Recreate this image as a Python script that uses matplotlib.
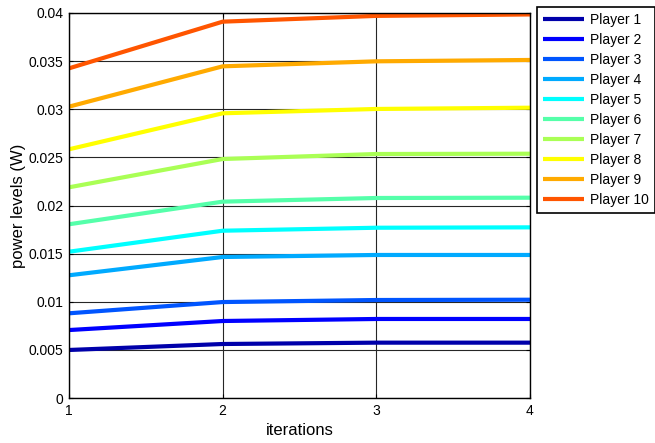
import matplotlib
matplotlib.use("Agg")
import matplotlib.pyplot as plt

plt.rcParams['font.family'] = ['Liberation Sans', 'DejaVu Sans']

iterations = [1, 2, 3, 4]
players = ["Player 1", "Player 2", "Player 3", "Player 4", "Player 5",
           "Player 6", "Player 7", "Player 8", "Player 9", "Player 10"]
p1 = [0.00499, 0.00561, 0.00575, 0.00575]
p2 = [0.00706, 0.00800, 0.00821, 0.00821]
p3 = [0.00880, 0.00997, 0.01018, 0.01021]
p4 = [0.01275, 0.01465, 0.01486, 0.01486]
p5 = [0.01520, 0.01738, 0.01769, 0.01773]
p6 = [0.01805, 0.02040, 0.02078, 0.02081]
p7 = [0.02189, 0.02483, 0.02535, 0.02538]
p8 = [0.02584, 0.02958, 0.03003, 0.03016]
p9 = [0.03027, 0.03446, 0.03498, 0.03512]
p10 = [0.03425, 0.03910, 0.03970, 0.03985]
series = [p1, p2, p3, p4, p5, p6, p7, p8, p9, p10]

colors = [(0, 0, 0.667), (0, 0, 1), (0, 0.333, 1), (0, 0.667, 1), (0, 1, 1),
          (0.333, 1, 0.667), (0.667, 1, 0.333), (1, 1, 0), (1, 0.667, 0), (1, 0.333, 0)]

fig = plt.figure(figsize=(6.55, 4.43), dpi=100)
ax = fig.add_axes([69/655, 45/443, 461/655, 385/443])

for vals, name, c in zip(series, players, colors):
    ax.plot(iterations, vals, color=c, linewidth=3, label=name, solid_capstyle='butt')

ax.set_xlim(1, 4)
ax.set_ylim(0, 0.04)
ax.set_xticks([1, 2, 3, 4])
ax.set_yticks([0, 0.005, 0.01, 0.015, 0.02, 0.025, 0.03, 0.035, 0.04])
ax.set_yticklabels(["0", "0.005", "0.01", "0.015", "0.02", "0.025", "0.03", "0.035", "0.04"])
ax.grid(True, color=(0.15, 0.15, 0.15), linewidth=0.8, linestyle='-')
ax.set_axisbelow(True)
ax.tick_params(direction='in', length=3, labelsize=10, top=True, right=True, colors='black', pad=4)
for s in ax.spines.values():
    s.set_linewidth(1.0)
ax.set_xlabel("iterations", fontsize=12, labelpad=4)
ax.set_ylabel("power levels (W)", fontsize=12, labelpad=2)

leg = ax.legend(loc='upper left', bbox_to_anchor=(537/655, 1 - 7/443),
                bbox_transform=fig.transFigure, fontsize=10, frameon=True,
                fancybox=False, edgecolor='black', framealpha=1,
                handlelength=2.9, handletextpad=0.45, labelspacing=0.43,
                borderpad=0.45, borderaxespad=0)
leg.get_frame().set_linewidth(1.2)

fig.savefig("out.png", dpi=100)
